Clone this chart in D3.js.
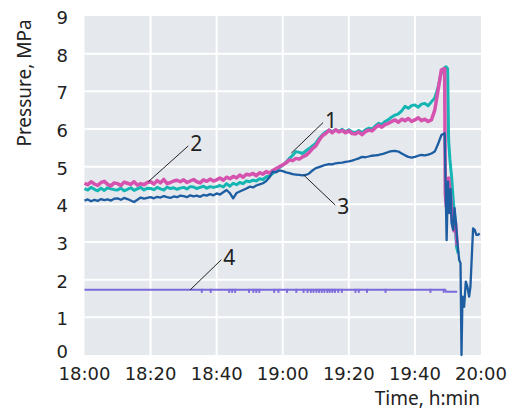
<!DOCTYPE html>
<html lang="en">
<head>
<meta charset="utf-8">
<title>Pressure vs time</title>
<script src="https://cdn.jsdelivr.net/npm/d3@7"></script>
<style>
  body { margin: 0; background: #fff; }
  svg { display: block; }
</style>
</head>
<body>
<div id="chart"></div>
<script>

// minutes after 18:00, x tick labels
var xTicks = [0, 20, 40, 60, 80, 100, 120];
var xTickLabels = ["18:00", "18:20", "18:40", "19:00", "19:20", "19:40", "20:00"];
var yTicks = [0, 1, 2, 3, 4, 5, 6, 7, 8, 9];

// one reading per minute from 18:00 (index = minute)
var curve1 = [ // cyan
  4.42,4.38,4.45,4.40,4.36,4.43,4.37,4.44,4.41,4.39,
  4.38,4.43,4.36,4.40,4.44,4.37,4.41,4.45,4.38,4.43,
  4.42,4.39,4.45,4.41,4.38,4.46,4.42,4.44,4.40,4.43,
  4.45,4.41,4.47,4.46,4.42,4.45,4.48,4.43,4.47,4.45,
  4.47,4.50,4.46,4.55,4.48,4.56,4.52,4.58,4.55,4.62,
  4.60,4.64,4.62,4.68,4.66,4.73,4.75,4.82,4.91,4.98,
  5.04,5.12,5.22,5.30,5.40,5.38,5.35,5.42,5.48,5.55,
  5.62,5.75,5.85,5.92,5.97,5.93,5.98,5.94,5.99,5.93,
  5.98,5.92,5.90,5.96,5.90,5.98,6.02,6.00,6.08,6.15,
  6.12,6.20,6.25,6.32,6.37,6.40,6.48,6.60,6.55,6.62,
  6.64,6.58,6.66,6.68,6.62,6.72,6.82,7.10,7.50,7.63
];
var curve2 = [ // magenta
  4.56,4.52,4.60,4.54,4.50,4.58,4.61,4.53,4.49,4.57,
  4.55,4.50,4.59,4.56,4.53,4.60,4.51,4.55,4.52,4.58,
  4.60,4.54,4.63,4.57,4.66,4.55,4.58,4.62,4.64,4.60,
  4.65,4.58,4.62,4.66,4.60,4.57,4.65,4.61,4.67,4.62,
  4.65,4.70,4.64,4.72,4.68,4.74,4.70,4.78,4.72,4.80,
  4.78,4.82,4.76,4.84,4.80,4.87,4.83,4.90,4.95,5.00,
  5.05,5.10,5.18,5.16,5.22,5.20,5.26,5.30,5.38,5.48,
  5.55,5.70,5.82,5.88,5.97,5.90,5.98,5.92,5.96,5.90,
  5.95,5.88,5.87,5.92,5.85,5.93,5.97,5.95,6.03,6.10,
  6.05,6.12,6.15,6.20,6.24,6.18,6.26,6.22,6.28,6.20,
  6.24,6.30,6.22,6.26,6.20,6.24,6.50,7.03,7.57
];
var curve3 = [ // dark blue
  4.10,4.13,4.08,4.12,4.09,4.14,4.11,4.13,4.10,4.15,
  4.16,4.12,4.17,4.14,4.10,4.06,4.12,4.18,4.15,4.17,
  4.19,4.16,4.20,4.18,4.22,4.19,4.17,4.21,4.19,4.23,
  4.22,4.19,4.24,4.21,4.23,4.20,4.25,4.23,4.27,4.24,
  4.29,4.26,4.32,4.38,4.30,4.16,4.30,4.34,4.38,4.42,
  4.47,4.45,4.50,4.53,4.56,4.62,4.72,4.87,4.85,4.90,
  4.88,4.85,4.83,4.80,4.79,4.78,4.77,4.78,4.82,4.90,
  4.96,4.99,5.02,5.05,5.07,5.06,5.09,5.10,5.11,5.13,
  5.14,5.16,5.19,5.22,5.26,5.25,5.27,5.29,5.30,5.31,
  5.33,5.36,5.39,5.41,5.42,5.40,5.35,5.30,5.26,5.24,
  5.26,5.29,5.31,5.30,5.32,5.35,5.40,5.60,5.84,5.89
];

// the fast drop at the end, [minute, MPa]
var tail1 = [[109.4,7.65],[109.9,7.6],[110.2,5.7],[110.6,5.18],[111.1,4.73],[111.6,4.1],[112.1,3.58],[112.6,2.87],[113.1,2.7]];
var tail2 = [[109.0,7.6],[109.2,4.3],[109.5,3.94],[110.2,4.7],[110.8,4.2],[111.3,3.6],[111.8,3.3],[112.3,3.5],[112.8,2.9]];
var tail3 = [[109.6,3.05],[110.0,4.6],[110.4,3.77],[110.8,4.4],[111.1,3.5],[111.6,3.32],[112.0,3.9],[112.4,3.54],
  [112.8,3.05],[113.4,2.52],[113.8,2.44],[114.1,0.0],[114.4,1.55],[114.9,1.28],[115.4,1.95],[115.9,1.81],
  [116.4,1.55],[116.8,1.81],[117.1,2.39],[117.6,3.36],[118.1,3.32],[118.6,3.19],[119.1,3.19],[119.6,3.23]];

// curve 4 is flat
var curve4 = [[0,1.73],[109.2,1.73],[109.4,1.68],[112.8,1.68]];
var curve4Blips = [35.5,38.2,43.8,44.7,45.6,49.8,51.1,52.0,52.9,57.4,58.7,61.3,64.1,
  66.3,67.5,68.5,69.3,70.2,71.0,71.8,72.6,73.5,74.2,75.0,75.8,76.8,77.9,82.0,83.0,85.5,91.1,104.7,108.7];

// callout labels: [label, from minute, from MPa, to minute, to MPa]
var callouts = [
  ["1", 62.6, 5.36, 72.2, 6.17],
  ["2", 19.3, 4.6, 31.4, 5.55],
  ["3", 66.3, 4.78, 75.9, 3.98],
  ["4", 32.0, 1.73, 41.4, 2.53]
];

var colors = { c1: "#14b5b3", c2: "#d553af", c3: "#1d5da2", c4: "#7b69dc" };

var W = 515, H = 410;
var margin = { top: 16, right: 34, bottom: 55, left: 84.5 };
var iw = W - margin.left - margin.right, ih = H - margin.top - margin.bottom;

var svg = d3.select("#chart").append("svg").attr("width", W).attr("height", H);
var g = svg.append("g").attr("transform", "translate(" + margin.left + "," + margin.top + ")");

var x = d3.scaleLinear().domain([0, 120]).range([0, iw]);
var y = d3.scaleLinear().domain([0, 9]).range([ih, 0]);

g.append("rect").attr("width", iw).attr("height", ih).attr("fill", "#e5e8ec");

// grid
g.selectAll(".vg").data(xTicks.slice(1, -1)).enter().append("line")
  .attr("x1", d => x(d)).attr("x2", d => x(d)).attr("y1", 0).attr("y2", ih)
  .attr("stroke", "#fff").attr("stroke-width", 2);
g.selectAll(".hg").data(yTicks.slice(1, -1)).enter().append("line")
  .attr("x1", 0).attr("x2", iw).attr("y1", d => y(d)).attr("y2", d => y(d))
  .attr("stroke", "#fff").attr("stroke-width", 2);

var line = d3.line().x(d => x(d[0])).y(d => y(d[1]));
function withTail(vals, tail) {
  return vals.map((v, i) => [i, v]).concat(tail);
}

g.append("path").datum(curve4).attr("d", line)
  .attr("fill", "none").attr("stroke", colors.c4).attr("stroke-width", 2);
g.selectAll(".blip").data(curve4Blips).enter().append("rect")
  .attr("x", d => x(d) - 1).attr("y", y(1.73) - 1).attr("width", 2).attr("height", 4)
  .attr("fill", colors.c4);

g.append("path").datum(withTail(curve1, tail1)).attr("d", line)
  .attr("fill", "none").attr("stroke", colors.c1).attr("stroke-width", 3).attr("stroke-linejoin", "round");
g.append("path").datum(withTail(curve2, tail2)).attr("d", line)
  .attr("fill", "none").attr("stroke", colors.c2).attr("stroke-width", 3.5).attr("stroke-linejoin", "round");
g.append("path").datum(withTail(curve3, tail3)).attr("d", line)
  .attr("fill", "none").attr("stroke", colors.c3).attr("stroke-width", 2.3).attr("stroke-linejoin", "round");

// callouts
callouts.forEach(function(c) {
  g.append("line").attr("x1", x(c[1])).attr("y1", y(c[2])).attr("x2", x(c[3])).attr("y2", y(c[4]))
    .attr("stroke", "#222").attr("stroke-width", 1);
  var up = c[4] > c[2];
  g.append("text").attr("x", x(c[3]) + 2).attr("y", y(c[4]) + (up ? 5 : 9))
    .attr("font-family", "Noto Sans").attr("font-size", 21).attr("fill", "#222").text(c[0]);
});

// axes labels
svg.selectAll(".xt").data(xTicks).enter().append("text")
  .attr("x", d => margin.left + x(d)).attr("y", 380)
  .attr("text-anchor", "middle").attr("font-family", "DejaVu Sans").attr("font-size", 18).attr("fill", "#222")
  .text((d, i) => xTickLabels[i]);
svg.selectAll(".yt").data(yTicks).enter().append("text")
  .attr("x", 68).attr("y", d => margin.top + y(d) + (d === 0 ? 3 : 8))
  .attr("text-anchor", "end").attr("font-family", "DejaVu Sans").attr("font-size", 18).attr("fill", "#222")
  .text(d => d);

svg.append("text").attr("x", 480).attr("y", 405).attr("text-anchor", "end")
  .attr("font-family", "Noto Sans").attr("font-size", 19).attr("fill", "#222").text("Time, h:min");
svg.append("text").attr("transform", "translate(31,83) rotate(-90)").attr("text-anchor", "middle")
  .attr("font-family", "Noto Sans").attr("font-size", 19).attr("fill", "#222").text("Pressure, MPa");

</script>
</body>
</html>
